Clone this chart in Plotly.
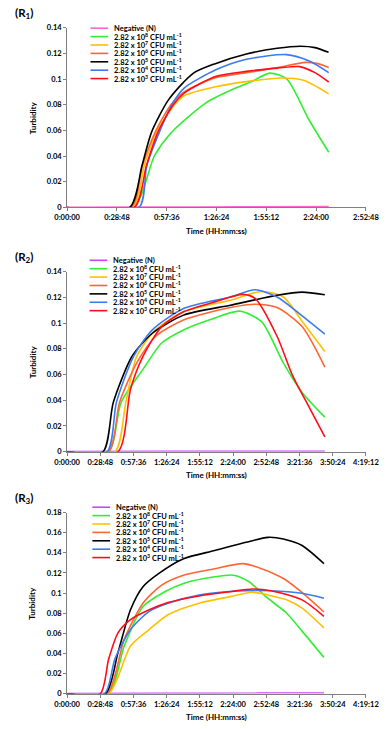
# Turbidity curves (R1-R3): turbidity vs time for a dilution series of CFU/mL

import plotly.graph_objects as go

# Series names and colours (legend order)
names = ["Negative (N)",
         "2.82 x 10<sup>8</sup> CFU mL<sup>-1</sup>",
         "2.82 x 10<sup>7</sup> CFU mL<sup>-1</sup>",
         "2.82 x 10<sup>6</sup> CFU mL<sup>-1</sup>",
         "2.82 x 10<sup>5</sup> CFU mL<sup>-1</sup>",
         "2.82 x 10<sup>4</sup> CFU mL<sup>-1</sup>",
         "2.82 x 10<sup>3</sup> CFU mL<sup>-1</sup>"]
colors_r1 = ["#FF66CC", "#33EE33", "#FFC000", "#FF6633", "#000000", "#3B7BF2", "#FF0D1A"]
colors_r23 = ["#CC44FF", "#33EE33", "#FFC000", "#FF6633", "#000000", "#3B7BF2", "#FF0D1A"]

# ---- R1 (time in seconds, turbidity) ----
r1_neg_t = [0, 3000, 6000, 9077]
r1_neg_v = [0.0003, 0.0004, 0.0006, 0.0008]
r1_e8_t = [0, 2300, 3035, 3600, 4817, 5897, 6400, 7030, 7625, 8382, 9077]
r1_e8_v = [0, 0, 0.0405, 0.058, 0.0815, 0.0935, 0.098, 0.1046, 0.100, 0.0687, 0.043]
r1_e7_t = [0, 2279, 2678, 3089, 3726, 4060, 5142, 6221, 7420, 8200, 9077]
r1_e7_v = [0, 0, 0.0328, 0.0585, 0.080, 0.087, 0.094, 0.098, 0.1008, 0.099, 0.0885]
r1_e6_t = [0, 2225, 2620, 3040, 3600, 4060, 5142, 6221, 7300, 8262, 8700, 9077]
r1_e6_v = [0, 0, 0.033, 0.058, 0.080, 0.090, 0.101, 0.105, 0.109, 0.113, 0.112, 0.109]
r1_e5_t = [0, 2171, 2602, 2926, 3522, 4384, 5142, 6221, 7290, 8100, 8600, 9072]
r1_e5_v = [0, 0, 0.033, 0.0585, 0.084, 0.1046, 0.112, 0.1195, 0.124, 0.1256, 0.1245, 0.1208]
r1_e4_t = [0, 2495, 2765, 3197, 3683, 4060, 5142, 6221, 7614, 8400, 9077]
r1_e4_v = [0, 0, 0.0328, 0.0585, 0.082, 0.093, 0.107, 0.1154, 0.119, 0.114, 0.105]
r1_e3_t = [0, 2333, 2754, 3143, 3683, 4060, 5142, 6221, 7300, 8068, 8600, 9077]
r1_e3_v = [0, 0, 0.0328, 0.0585, 0.080, 0.089, 0.102, 0.106, 0.1085, 0.1097, 0.105, 0.0977]

# ---- R2 ----
r2_neg_t = [0, 5000, 10000, 13414]
r2_neg_v = [0.0003, 0.0004, 0.0005, 0.0005]
r2_e8_t = [0, 2160, 2810, 3946, 4921, 6058, 7500, 8981, 10118, 11254, 12229, 13414]
r2_e8_v = [0, 0, 0.0384, 0.064, 0.0845, 0.0947, 0.103, 0.1093, 0.1011, 0.0691, 0.0461, 0.0269]
r2_e7_t = [0, 2485, 3053, 3622, 4596, 6058, 8494, 10118, 11254, 12300, 13414]
r2_e7_v = [0, 0, 0.0384, 0.0742, 0.0947, 0.1088, 0.1177, 0.1246, 0.1203, 0.100, 0.078]
r2_e6_t = [0, 2160, 2728, 3622, 4596, 6058, 8494, 9793, 10930, 12229, 13414]
r2_e6_v = [0, 0, 0.0384, 0.0691, 0.0896, 0.1024, 0.1121, 0.1147, 0.1121, 0.0973, 0.0658]
r2_e5_t = [0, 1868, 2404, 3378, 4434, 6058, 8494, 10930, 12229, 13414]
r2_e5_v = [0, 0, 0.0384, 0.0742, 0.0921, 0.1062, 0.1139, 0.1216, 0.1241, 0.1221]
r2_e4_t = [0, 2079, 2566, 3459, 4434, 6058, 8494, 9793, 10930, 12200, 13414]
r2_e4_v = [0, 0, 0.0384, 0.0742, 0.0947, 0.1113, 0.1203, 0.1259, 0.1203, 0.106, 0.0914]
r2_e3_t = [0, 2647, 3297, 3946, 4921, 6058, 7682, 9143, 9793, 10930, 11742, 12553, 13414]
r2_e3_v = [0, 0, 0.0486, 0.0742, 0.0973, 0.1088, 0.1165, 0.1223, 0.119, 0.0896, 0.0589, 0.0358, 0.0115]

# ---- R3 ----
r3_neg_t = [0, 5000, 10000, 13366]
r3_neg_v = [0.0003, 0.0005, 0.0007, 0.0008]
r3_e8_t = [0, 2160, 2972, 3946, 5083, 6058, 7682, 8657, 9468, 10443, 11417, 12229, 13366]
r3_e8_v = [0, 0, 0.0474, 0.0867, 0.1014, 0.1096, 0.1162, 0.1178, 0.1113, 0.0949, 0.0802, 0.0622, 0.036]
r3_e7_t = [0, 2160, 3297, 4271, 5246, 6870, 8494, 9630, 10443, 11417, 12229, 13366]
r3_e7_v = [0, 0, 0.0474, 0.0638, 0.0785, 0.090, 0.0965, 0.1008, 0.0982, 0.0933, 0.0851, 0.0654]
r3_e6_t = [0, 2079, 2972, 3946, 4921, 6058, 7682, 9143, 10118, 11254, 12066, 13366]
r3_e6_v = [0, 0, 0.054, 0.090, 0.108, 0.1178, 0.1243, 0.1293, 0.1243, 0.1145, 0.1031, 0.0812]
r3_e5_t = [0, 1998, 2647, 3297, 3946, 4758, 6058, 7682, 9306, 10443, 11254, 12229, 13366]
r3_e5_v = [0, 0, 0.0409, 0.0834, 0.1063, 0.1194, 0.1342, 0.1423, 0.1505, 0.1554, 0.1538, 0.1473, 0.1293]
r3_e4_t = [0, 1949, 2485, 3297, 4271, 5246, 6870, 8819, 10605, 12229, 13366]
r3_e4_v = [0, 0, 0.0344, 0.0638, 0.0818, 0.090, 0.0982, 0.1021, 0.1024, 0.0998, 0.0949]
r3_e3_t = [0, 1721, 2160, 2647, 3297, 4271, 5246, 6870, 8494, 9630, 10605, 12229, 13366]
r3_e3_v = [0, 0, 0.0344, 0.0605, 0.0736, 0.0834, 0.0906, 0.0972, 0.1014, 0.1041, 0.1024, 0.0933, 0.0769]

panels = [
    dict(label="(R<sub>1</sub>)", colors=colors_r1, xmax=10368, ymax=0.14,
         series=[(r1_neg_t, r1_neg_v), (r1_e8_t, r1_e8_v), (r1_e7_t, r1_e7_v), (r1_e6_t, r1_e6_v),
                 (r1_e5_t, r1_e5_v), (r1_e4_t, r1_e4_v), (r1_e3_t, r1_e3_v)],
         px_top=24, px_bot=206, leg_y=24.5, leg_x=83),
    dict(label="(R<sub>2</sub>)", colors=colors_r23, xmax=15552, ymax=0.14,
         series=[(r2_neg_t, r2_neg_v), (r2_e8_t, r2_e8_v), (r2_e7_t, r2_e7_v), (r2_e6_t, r2_e6_v),
                 (r2_e5_t, r2_e5_v), (r2_e4_t, r2_e4_v), (r2_e3_t, r2_e3_v)],
         px_top=271, px_bot=453.3, leg_y=259.5, leg_x=82),
    dict(label="(R<sub>3</sub>)", colors=colors_r23, xmax=15552, ymax=0.18,
         series=[(r3_neg_t, r3_neg_v), (r3_e8_t, r3_e8_v), (r3_e7_t, r3_e7_v), (r3_e6_t, r3_e6_v),
                 (r3_e5_t, r3_e5_v), (r3_e4_t, r3_e4_v), (r3_e3_t, r3_e3_v)],
         px_top=515, px_bot=698.3, leg_y=509.5, leg_x=85),
]

W, H = 392, 729
X_LEFT, X_RIGHT = 58, 378
FONT = "Lato"
AXIS_COLOR = "#7f7f7f"


def hms(sec):
    return f"{sec // 3600}:{(sec % 3600) // 60:02d}:{sec % 60:02d}"


fig = go.Figure()
shapes = []
annotations = []

for i, p in enumerate(panels):
    n = "" if i == 0 else str(i + 1)
    xa, ya = "x" + n, "y" + n
    for k, (t, v) in enumerate(p["series"]):
        fig.add_trace(go.Scatter(
            x=t, y=v, xaxis=xa, yaxis=ya, mode="lines", showlegend=False,
            line=dict(color=p["colors"][k], width=1.6 if k else 1.2,
                      shape="spline", smoothing=0.7),
        ))

    ticks = list(range(0, p["xmax"] + 1, 1728))
    fig.update_layout({
        "xaxis" + n: dict(
            domain=[X_LEFT / W, X_RIGHT / W], anchor=ya, range=[0, p["xmax"]],
            tickvals=ticks, ticktext=[hms(s) for s in ticks],
            showgrid=False, zeroline=False, showline=True, linecolor=AXIS_COLOR,
            ticks="outside", ticklen=3, tickcolor=AXIS_COLOR,
            tickfont=dict(family=FONT, size=7.5, color="#000", weight="bold"),
        ),
        "yaxis" + n: dict(
            domain=[1 - p["px_bot"] / H, 1 - p["px_top"] / H], anchor=xa,
            range=[0, p["ymax"]], dtick=0.02,
            showgrid=False, zeroline=False, showline=True, linecolor=AXIS_COLOR,
            ticks="outside", ticklen=3, tickcolor=AXIS_COLOR,
            tickfont=dict(family=FONT, size=7.5, color="#000", weight="bold"),
        ),
    })

    mid_y = (p["px_top"] + p["px_bot"]) / 2
    annotations += [
        dict(text=p["label"], x=0, y=1 - (p["px_top"] - 14) / H, xref="paper", yref="paper",
             xanchor="left", yanchor="middle", showarrow=False,
             font=dict(family=FONT, size=11.5, color="#000", weight="bold")),
        dict(text="Turbidity", x=21 / W, y=1 - mid_y / H, xref="paper", yref="paper",
             xanchor="center", yanchor="middle", textangle=-90, showarrow=False,
             font=dict(family=FONT, size=8, color="#000", weight="bold")),
        dict(text="Time (HH:mm:ss)", x=(X_LEFT + X_RIGHT) / 2 / W,
             y=1 - (p["px_bot"] + 23.5) / H, xref="paper", yref="paper",
             xanchor="center", yanchor="middle",
             showarrow=False, font=dict(family=FONT, size=8, color="#000", weight="bold")),
    ]

    # legend drawn by hand so it stays as compact as the original
    for k, name in enumerate(names):
        ly = 1 - (p["leg_y"] + k * 8.5) / H
        shapes.append(dict(type="line", xref="paper", yref="paper",
                           x0=p["leg_x"] / W, x1=(p["leg_x"] + 19) / W, y0=ly, y1=ly,
                           line=dict(color=p["colors"][k], width=1.6)))
        annotations.append(dict(text=name, x=(p["leg_x"] + 23) / W, y=ly, xref="paper", yref="paper",
                                xanchor="left", yanchor="middle", showarrow=False,
                                font=dict(family=FONT, size=7.5, color="#000", weight="bold")))

fig.update_layout(
    width=W, height=H, margin=dict(l=0, r=0, t=0, b=0),
    paper_bgcolor="white", plot_bgcolor="white",
    shapes=shapes, annotations=annotations,
)

# the page body has an 8px margin by default, drop it so the figure fills the window
fig.write_html("out.html", config={"displayModeBar": False},
               post_script="document.body.style.margin = '0';")
